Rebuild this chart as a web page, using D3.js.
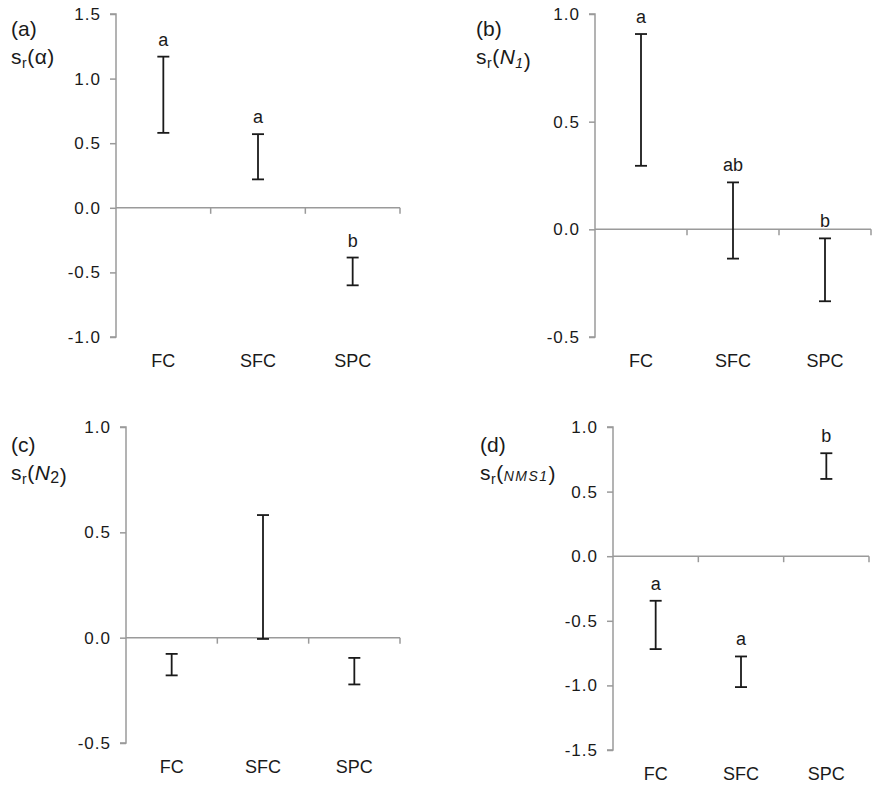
<!DOCTYPE html>
<html>
<head>
<meta charset="utf-8">
<script src="https://cdn.jsdelivr.net/npm/d3@7"></script>
<style>
  html, body { margin: 0; padding: 0; background: #fff; }
  svg { display: block; }
  text { font-family: "Liberation Sans", Arial, sans-serif; fill: #1a1a1a; }
</style>
</head>
<body>
<svg id="chart" width="873" height="793"></svg>
<script>
// Categories shared by all four panels
const categories = ["FC", "SFC", "SPC"];

// (a) s_r(alpha): interval bounds and group letters
const alphaLower = [0.58, 0.22, -0.60];
const alphaUpper = [1.17, 0.57, -0.385];
const alphaLetters = ["a", "a", "b"];
const alphaTicks = [-1.0, -0.5, 0.0, 0.5, 1.0, 1.5];

// (b) s_r(N1)
const n1Lower = [0.295, -0.136, -0.334];
const n1Upper = [0.907, 0.218, -0.042];
const n1Letters = ["a", "ab", "b"];
const n1Ticks = [-0.5, 0.0, 0.5, 1.0];

// (c) s_r(N2)
const n2Lower = [-0.179, -0.006, -0.222];
const n2Upper = [-0.077, 0.582, -0.096];
const n2Letters = ["", "", ""];
const n2Ticks = [-0.5, 0.0, 0.5, 1.0];

// (d) s_r(NMS1)
const nmsLower = [-0.719, -1.013, 0.598];
const nmsUpper = [-0.345, -0.776, 0.797];
const nmsLetters = ["a", "a", "b"];
const nmsTicks = [-1.5, -1.0, -0.5, 0.0, 0.5, 1.0];

const svg = d3.select("#chart");
// one decimal, plain hyphen for negatives
const fmt = v => v.toFixed(1);

const panels = [
  { tag: "(a)", label: "alpha", lower: alphaLower, upper: alphaUpper, letters: alphaLetters, ticks: alphaTicks,
    left: 116, right: 400, top: 14, bottom: 337, lx: 11, ly: 36 },
  { tag: "(b)", label: "N1", lower: n1Lower, upper: n1Upper, letters: n1Letters, ticks: n1Ticks,
    left: 595, right: 871, top: 14, bottom: 337, lx: 476, ly: 36 },
  { tag: "(c)", label: "N2", lower: n2Lower, upper: n2Upper, letters: n2Letters, ticks: n2Ticks,
    left: 126, right: 400, top: 427, bottom: 743, lx: 11, ly: 452 },
  { tag: "(d)", label: "NMS1", lower: nmsLower, upper: nmsUpper, letters: nmsLetters, ticks: nmsTicks,
    left: 613, right: 869, top: 427, bottom: 750, lx: 480, ly: 452 }
];

panels.forEach(p => {
  const g = svg.append("g");
  const y = d3.scaleLinear()
    .domain(d3.extent(p.ticks))
    .range([p.bottom, p.top]);
  const x = d3.scaleBand()
    .domain(categories)
    .range([p.left, p.right]);

  // Vertical axis with outward ticks
  const yAxis = g.append("g")
    .attr("transform", `translate(${p.left},0)`)
    .call(d3.axisLeft(y).tickValues(p.ticks).tickFormat(fmt).tickSize(6).tickPadding(9));
  yAxis.select(".domain").attr("d", `M-6,${y.range()[0]}H0V${y.range()[1]}H-6`);
  yAxis.selectAll("line, path").attr("stroke", "#9a9a9a").attr("stroke-width", 1.5);
  yAxis.selectAll("text")
    .attr("font-size", 17).attr("letter-spacing", 1)
    .attr("font-family", "Liberation Sans, Arial, sans-serif").attr("fill", "#1a1a1a");

  // Horizontal zero line with ticks at the category boundaries
  const y0 = y(0);
  g.append("line")
    .attr("x1", p.left).attr("x2", p.right)
    .attr("y1", y0).attr("y2", y0)
    .attr("stroke", "#9a9a9a").attr("stroke-width", 1.5);
  g.selectAll(".xtick")
    .data(categories)
    .join("line")
    .attr("class", "xtick")
    .attr("x1", d => x(d) + x.bandwidth()).attr("x2", d => x(d) + x.bandwidth())
    .attr("y1", y0).attr("y2", y0 + 6)
    .attr("stroke", "#9a9a9a").attr("stroke-width", 1.5);

  // Category labels under the plot
  g.selectAll(".cat")
    .data(categories)
    .join("text")
    .attr("class", "cat")
    .attr("x", d => x(d) + x.bandwidth() / 2)
    .attr("y", p.bottom + 30)
    .attr("text-anchor", "middle")
    .attr("font-size", 18)
    .text(d => d);

  // Interval bars with caps
  const rows = categories.map((c, i) => ({ c, lo: p.lower[i], hi: p.upper[i], letter: p.letters[i] }));
  const bars = g.selectAll(".bar").data(rows).join("g").attr("class", "bar");
  const cap = 6;
  bars.append("line")
    .attr("x1", d => x(d.c) + x.bandwidth() / 2).attr("x2", d => x(d.c) + x.bandwidth() / 2)
    .attr("y1", d => y(d.lo)).attr("y2", d => y(d.hi));
  bars.append("line")
    .attr("x1", d => x(d.c) + x.bandwidth() / 2 - cap).attr("x2", d => x(d.c) + x.bandwidth() / 2 + cap)
    .attr("y1", d => y(d.hi)).attr("y2", d => y(d.hi));
  bars.append("line")
    .attr("x1", d => x(d.c) + x.bandwidth() / 2 - cap).attr("x2", d => x(d.c) + x.bandwidth() / 2 + cap)
    .attr("y1", d => y(d.lo)).attr("y2", d => y(d.lo));
  bars.selectAll("line").attr("stroke", "#1a1a1a").attr("stroke-width", 1.8);

  // Group letters above each bar
  bars.append("text")
    .attr("x", d => x(d.c) + x.bandwidth() / 2)
    .attr("y", d => y(d.hi) - 11)
    .attr("text-anchor", "middle")
    .attr("font-size", 18)
    .text(d => d.letter);

  // Panel tag and variable name
  g.append("text")
    .attr("x", p.lx).attr("y", p.ly)
    .attr("font-size", 21)
    .text(p.tag);

  const lab = g.append("text")
    .attr("x", p.lx).attr("y", p.ly + 28)
    .attr("font-size", 21)
    .attr("letter-spacing", 0.5);
  lab.append("tspan").text("s");
  lab.append("tspan").attr("font-size", 14).attr("dy", 4).text("r");
  lab.append("tspan").attr("dy", -4).text("(");
  if (p.label === "alpha") {
    lab.append("tspan").text("α");
  } else if (p.label === "N1") {
    lab.append("tspan").attr("font-style", "italic").text("N");
    lab.append("tspan").attr("font-style", "italic").attr("font-size", 14).attr("dy", 4).text("1");
    lab.append("tspan").attr("dy", -4).text("");
  } else if (p.label === "N2") {
    lab.append("tspan").attr("font-style", "italic").text("N");
    lab.append("tspan").attr("font-size", 16).attr("dy", 3).text("2");
    lab.append("tspan").attr("dy", -3).text("");
  } else {
    lab.append("tspan").attr("font-style", "italic").attr("font-size", 14)
      .attr("letter-spacing", 1.5).attr("dy", 1).text("NMS1");
    lab.append("tspan").attr("dy", -1).text("");
  }
  lab.append("tspan").text(")");
});
</script>
</body>
</html>
